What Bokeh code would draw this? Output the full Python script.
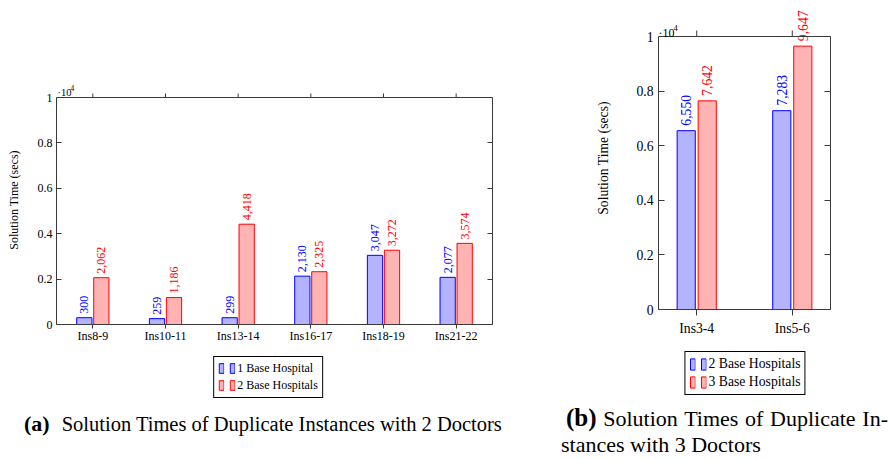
import math
from bokeh.plotting import figure
from bokeh.models import (Range1d, FixedTicker, LinearAxis, Label, LabelSet, Span,
                          Legend, LegendItem, ColumnDataSource, Div)
from bokeh.layouts import row, column
from bokeh.transform import dodge
from bokeh.embed import file_html
from bokeh.resources import INLINE

FONT = "Liberation Serif"

# ---------------- data ----------------
cats_a = ["Ins8-9", "Ins10-11", "Ins13-14", "Ins16-17", "Ins18-19", "Ins21-22"]
one_base_a = [300, 259, 299, 2130, 3047, 2077]
two_base_a = [2062, 1186, 4418, 2325, 3272, 3574]
series_a = ["1 Base Hospital", "2 Base Hospitals"]

cats_b = ["Ins3-4", "Ins5-6"]
two_base_b = [6550, 7283]
three_base_b = [7642, 9647]
series_b = ["2 Base Hospitals", "3 Base Hospitals"]

y_max = 10000
y_ticks = [0, 2000, 4000, 6000, 8000, 10000]
y_tick_labels = ["0", "0.2", "0.4", "0.6", "0.8", "1"]
y_label = "Solution Time (secs)"
caption_a = ["(a)", "Solution Times of Duplicate Instances with 2 Doctors"]
caption_b = ["(b)", "Solution Times of Duplicate In-", "stances with 3 Doctors"]

BLUE, BLUE_FILL = "#0000ff", "#b3b3ff"
RED, RED_FILL = "#ff0000", "#ffb3b3"
AXIS = "#3a3a3a"


def build(cats, s1, s2, c):
    n = len(cats)
    idx = list(range(n))
    src = ColumnDataSource(dict(x=idx, v1=s1, v2=s2,
                                t1=[f"{v:,}" for v in s1],
                                t2=[f"{v:,}" for v in s2],
                                top=[y_max] * n))
    fh = c["fh"] + c["ext"]              # frame reaches a little above the box
    per_px = y_max / c["fh"]
    W = c["bl"] + c["fw"] + c["br"]
    H = c["bt"] + fh + c["bb"]
    p = figure(width=W, height=H, title=None,
               x_range=Range1d(-c["pad"], n - 1 + c["pad"]),
               y_range=Range1d(0, y_max * fh / c["fh"]),
               output_backend="svg", toolbar_location=None,
               min_border_left=c["bl"], min_border_right=c["br"],
               min_border_top=c["bt"], min_border_bottom=c["bb"], margin=0)
    p.xgrid.visible = False
    p.ygrid.visible = False
    p.outline_line_color = None
    p.background_fill_color = "white"
    p.border_fill_color = "white"

    off, w = c["off"], c["w"]
    p.vbar(x=dodge("x", -off, range=p.x_range), top="v1", width=w, source=src,
           fill_color=BLUE_FILL, line_color=BLUE, line_width=1)
    p.vbar(x=dodge("x", off, range=p.x_range), top="v2", width=w, source=src,
           fill_color=RED_FILL, line_color=RED, line_width=1)
    fs = c["fs"]
    for key, t, col, sgn in (("v1", "t1", BLUE, -1), ("v2", "t2", RED, 1)):
        p.add_layout(LabelSet(x=dodge("x", sgn * off, range=p.x_range),
                              y=dodge(key, c["gap"] * per_px, range=p.y_range),
                              text=t, source=src,
                              angle=math.pi / 2, text_align="left", text_baseline="middle",
                              text_font=FONT, text_font_size=f"{fs}px", text_color=col))

    # top edge of the axis box and its outward ticks
    p.add_layout(Span(location=y_max, dimension="width", line_color=AXIS, line_width=1))
    p.ray(x="x", y="top", source=src, length=c["xt"], length_units="screen",
          angle=math.pi / 2, line_color=AXIS, line_width=1)

    # axes
    xa = p.xaxis[0]
    ya = p.yaxis[0]
    right = LinearAxis()
    xa.ticker = FixedTicker(ticks=idx, minor_ticks=[])
    xa.major_label_overrides = {i: cat for i, cat in enumerate(cats)}
    xa.major_tick_in = 0
    xa.major_tick_out = c["xt"]
    for ax in (ya, right):
        ax.ticker = FixedTicker(ticks=y_ticks, minor_ticks=[])
        ax.major_label_overrides = {t: l for t, l in zip(y_ticks, y_tick_labels)}
        ax.major_tick_in = c["yt"]
        ax.major_tick_out = 0
        ax.bounds = (0, y_max)
    for ax in (xa, ya, right):
        ax.axis_line_color = AXIS
        ax.major_tick_line_color = AXIS
        ax.minor_tick_line_color = None
        ax.major_label_text_font = FONT
        ax.major_label_text_font_size = f"{fs}px"
        ax.major_label_text_color = "black"
    right.major_label_text_color = None
    right.major_label_standoff = 0
    xa.major_label_standoff = c["xls"]
    ya.major_label_standoff = c["yls"]
    ya.axis_label = y_label
    ya.axis_label_text_font = FONT
    ya.axis_label_text_font_style = "normal"
    ya.axis_label_text_font_size = f"{fs}px"
    ya.axis_label_text_color = "black"
    ya.axis_label_standoff = c["als"]
    p.add_layout(right, "right")

    # scale note  ·10^4 just above the top-left corner of the box
    x0 = -c["pad"]
    p.add_layout(Label(x=x0, y=y_max + c["my"] * per_px, x_offset=c["mx"], text="\u00b710",
                       text_font=FONT, text_font_size=f"{c['mfs']}px", text_color="black",
                       text_baseline="alphabetic", text_align="left"))
    p.add_layout(Label(x=x0, y=y_max + (c["my"] + c["sy"]) * per_px, x_offset=c["mx"] + c["sx"],
                       text="4", text_font=FONT, text_font_size=f"{c['sfs']}px",
                       text_color="black", text_baseline="alphabetic", text_align="left"))
    return p


def legend_panel(names, fs, g):
    """Legend strip under a chart: two small bars per entry, like pgfplots' ybar legend."""
    lp = figure(width=g["w"], height=g["h"], title=None,
                x_range=Range1d(0, 1), y_range=Range1d(0, 1),
                x_axis_location=None, y_axis_location=None,
                output_backend="svg", toolbar_location=None,
                min_border_left=g["bl"], min_border_right=0,
                min_border_top=0, min_border_bottom=0, margin=0)
    lp.xgrid.visible = False
    lp.ygrid.visible = False
    lp.outline_line_color = None
    lp.background_fill_color = "white"
    lp.border_fill_color = "white"
    # legend proxies: styled like the bars, with no drawable value of their own
    proxy = ColumnDataSource(dict(x=[0.5], top=[float("nan")]))
    k1 = lp.vbar(x="x", top="top", width=0.1, source=proxy,
                 fill_color=BLUE_FILL, line_color=BLUE, line_width=1)
    k2 = lp.vbar(x="x", top="top", width=0.1, source=proxy,
                 fill_color=RED_FILL, line_color=RED, line_width=1)
    items = [LegendItem(label="\u200a", renderers=[k1]), LegendItem(label="\u200a", renderers=[k2]),
             LegendItem(label=names[0], renderers=[k1]), LegendItem(label=names[1], renderers=[k2])]
    leg = Legend(items=items, orientation="vertical", ncols=2, location="center",
                 glyph_width=6, glyph_height=g["gh"], label_height=g["lh"], label_width=1,
                 label_standoff=2, spacing=2, padding=4, margin=0,
                 border_line_color="black", border_line_width=1, border_line_alpha=1,
                 background_fill_color="white", background_fill_alpha=1,
                 label_text_font=FONT, label_text_font_size=f"{fs}px",
                 label_text_color="black")
    lp.add_layout(leg)
    return lp


cfg_a = dict(fw=436, fh=227, ext=22, pad=0.5, bl=56, br=68, bt=75, bb=24,
             off=0.117, w=0.21, fs=12, gap=4, xt=4, yt=5, xls=0, yls=4, als=14,
             mx=1, my=4.7, mfs=10.5, sx=13, sy=4.5, sfs=7.5)
cfg_b = dict(fw=172, fh=273, ext=30, pad=0.4, bl=98, br=60, bt=6, bb=32,
             off=0.11, w=0.19, fs=13.7, gap=5, xt=6, yt=6, xls=5, yls=5, als=22,
             mx=0, my=3.7, mfs=12, sx=15, sy=4.5, sfs=8.5)

pa = build(cats_a, one_base_a, two_base_a, cfg_a)
pb = build(cats_b, two_base_b, three_base_b, cfg_b)
la = legend_panel(series_a, 12, dict(w=548, h=57, bl=0, gh=12, lh=14))
lb = legend_panel(series_b, 13.7, dict(w=332, h=64, bl=36, gh=14, lh=16))

cap_a = Div(width=560, height=53, margin=0, text=(
    f'<div style="font-family:\'{FONT}\'; font-size:20.5px; line-height:24px; color:black; '
    f'white-space:nowrap; padding-left:24px; padding-top:7px;">'
    f'<b style="font-size:22px; margin-right:12px;">{caption_a[0]}</b>{caption_a[1]}</div>'))
cap_b = Div(width=330, height=53, margin=0, text=(
    f'<div style="font-family:\'{FONT}\'; font-size:22px; line-height:26px; color:black;">'
    f'<div style="margin-left:6px; width:322px; text-align:justify; text-align-last:justify;">'
    f'<b style="font-size:25px;">{caption_b[0]}</b> {caption_b[1]}</div>'
    f'<div style="margin-left:1px; white-space:nowrap;">{caption_b[2]}</div></div>'))

layout = row(column(pa, la, cap_a), column(pb, lb, cap_b))
open("out.html", "w").write(file_html(layout, INLINE))
